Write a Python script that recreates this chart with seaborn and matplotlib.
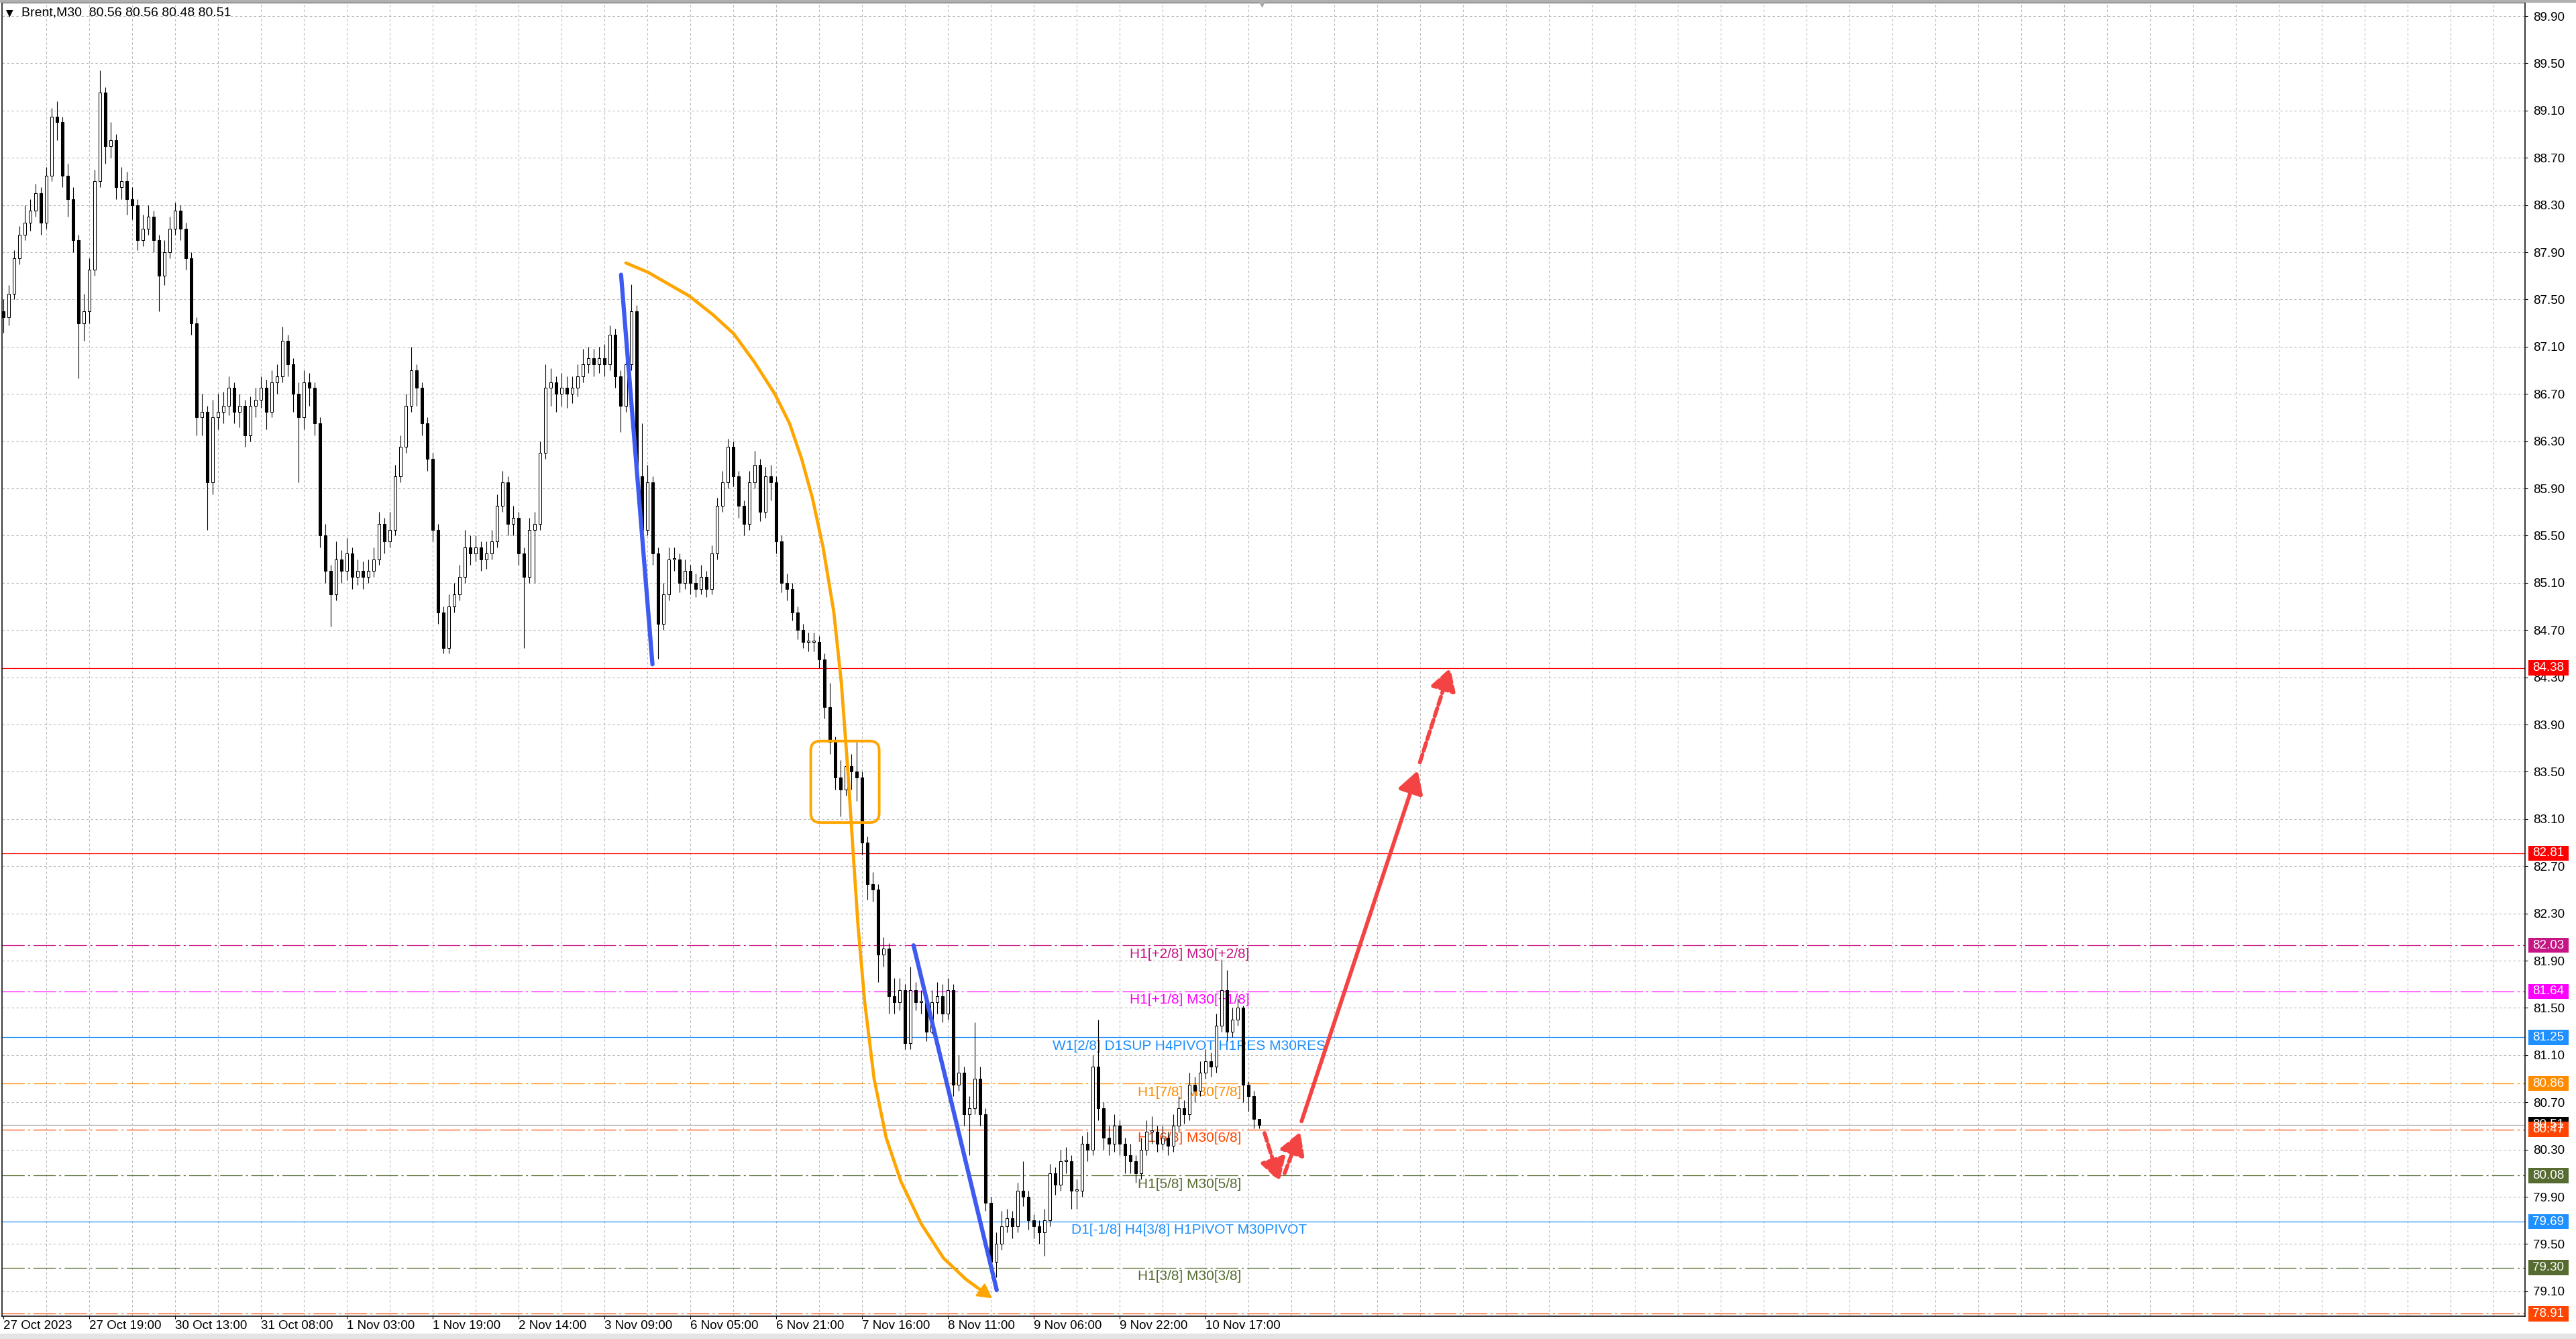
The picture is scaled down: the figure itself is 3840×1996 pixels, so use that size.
import numpy as np
import pandas as pd
import matplotlib
matplotlib.use("Agg")
import matplotlib.pyplot as plt
import matplotlib.transforms as mtransforms
from matplotlib.patches import Rectangle, FancyBboxPatch, FancyArrowPatch
import seaborn as sns

# Brent M30: one candle per two M30 bars
first_open = 87.40
closes = [
    87.35, 87.55, 87.85, 88.05, 88.15, 88.25, 88.40, 88.15, 88.55, 89.05,
    89.00, 88.55, 88.35, 88.00, 87.30, 87.40, 87.75, 88.50, 89.25, 88.80,
    88.85, 88.45, 88.50, 88.35, 88.30, 88.00, 88.10, 88.20, 88.00, 87.70,
    87.90, 88.10, 88.25, 88.10, 87.85, 87.30, 86.50, 86.55, 85.95, 86.50,
    86.55, 86.60, 86.75, 86.55, 86.60, 86.35, 86.60, 86.65, 86.75, 86.55,
    86.80, 86.85, 87.15, 86.95, 86.70, 86.50, 86.80, 86.75, 86.45, 85.50,
    85.20, 85.00, 85.30, 85.20, 85.35, 85.15, 85.20, 85.15, 85.20, 85.30,
    85.60, 85.45, 85.55, 86.00, 86.25, 86.60, 86.90, 86.75, 86.45, 86.15,
    85.55, 84.85, 84.55, 84.90, 85.00, 85.15, 85.40, 85.35, 85.40, 85.30,
    85.35, 85.45, 85.75, 85.95, 85.60, 85.65, 85.35, 85.15, 85.55, 85.60,
    86.20, 86.75, 86.80, 86.70, 86.75, 86.70, 86.75, 86.85, 86.95, 87.00,
    86.95, 87.00, 86.95, 87.20, 86.85, 86.60, 86.95, 87.40, 86.00, 85.55,
    85.95, 85.35, 84.75, 85.00, 85.30, 85.30, 85.10, 85.20, 85.10, 85.05,
    85.15, 85.05, 85.35, 85.75, 85.95, 86.25, 86.00, 85.75, 85.60, 85.95,
    86.10, 85.70, 86.00, 85.95, 85.45, 85.10, 85.05, 84.85, 84.70, 84.60,
    84.60, 84.60, 84.45, 84.05, 83.75, 83.45, 83.35, 83.55, 83.50, 83.45,
    82.90, 82.55, 82.50, 81.95, 82.00, 81.60, 81.55, 81.65, 81.20, 81.65,
    81.55, 81.55, 81.30, 81.55, 81.60, 81.45, 81.65, 80.85, 80.95, 80.60,
    80.65, 80.90, 80.60, 79.85, 79.35, 79.50, 79.65, 79.72, 79.65, 79.95,
    79.90, 79.70, 79.65, 79.60, 79.70, 80.10, 80.00, 80.20, 80.20, 79.95,
    79.95, 80.35, 80.30, 81.00, 80.65, 80.40, 80.35, 80.50, 80.35, 80.25,
    80.20, 80.10, 80.30, 80.45, 80.45, 80.35, 80.40, 80.33, 80.50, 80.65,
    80.60, 80.85, 80.80, 80.95, 81.05, 81.00, 81.35, 81.65, 81.30, 81.40,
    81.50, 80.85, 80.75, 80.56, 80.51,
]
highs = [
    87.50, 87.62, 87.92, 88.12, 88.30, 88.35, 88.48, 88.45, 88.62, 89.12,
    89.18, 89.05, 88.65, 88.45, 88.05, 87.55, 87.85, 88.60, 89.44, 89.30,
    89.00, 88.90, 88.62, 88.58, 88.45, 88.35, 88.22, 88.30, 88.25, 88.05,
    88.00, 88.20, 88.32, 88.30, 88.15, 87.90, 87.35, 86.70, 86.60, 86.65,
    86.70, 86.72, 86.85, 86.80, 86.70, 86.65, 86.68, 86.75, 86.85, 86.82,
    86.90, 86.95, 87.27, 87.20, 87.00, 86.80, 86.90, 86.88, 86.80, 86.50,
    85.60, 85.25, 85.45, 85.38, 85.48, 85.40, 85.30, 85.28, 85.30, 85.40,
    85.70, 85.65, 85.70, 86.10, 86.35, 86.70, 87.10, 86.95, 86.80, 86.50,
    86.20, 85.60, 84.90, 85.00, 85.10, 85.25, 85.55, 85.50, 85.50, 85.45,
    85.45, 85.55, 85.85, 86.05, 86.00, 85.75, 85.70, 85.40, 85.65, 85.70,
    86.30, 86.95, 86.92, 86.85, 86.88, 86.85, 86.85, 86.95, 87.08, 87.10,
    87.08, 87.10, 87.12, 87.28, 87.25, 86.90, 87.05, 87.63, 87.45, 86.45,
    86.10, 86.00, 85.40, 85.10, 85.40, 85.40, 85.35, 85.30, 85.25, 85.18,
    85.25, 85.20, 85.42, 85.82, 86.05, 86.32, 86.30, 86.05, 85.80, 86.05,
    86.22, 86.15, 86.08, 86.10, 86.00, 85.50, 85.18, 85.10, 84.90, 84.75,
    84.68, 84.68, 84.65, 84.50, 84.25, 83.80, 83.60, 83.70, 83.65, 83.75,
    83.50, 82.95, 82.65, 82.55, 82.10, 82.05, 81.75, 81.75, 81.70, 81.85,
    81.72, 81.65, 81.60, 81.65, 81.72, 81.70, 81.75, 81.70, 81.10, 81.00,
    80.75, 81.38, 81.00, 80.65, 79.90, 79.60, 79.78, 79.80, 79.78, 80.02,
    80.20, 79.95, 79.75, 79.70, 79.80, 80.18, 80.15, 80.30, 80.32, 80.25,
    80.05, 80.42, 80.45, 81.10, 81.40, 80.70, 80.50, 80.60, 80.55, 80.40,
    80.35, 80.25, 80.40, 80.55, 80.58, 80.50, 80.50, 80.45, 80.60, 80.75,
    80.72, 80.95, 80.92, 81.05, 81.15, 81.12, 81.45, 81.91, 81.82, 81.50,
    81.58, 81.52, 80.88, 80.80, 80.56,
]
lows = [
    87.22, 87.28, 87.50, 87.80, 88.00, 88.08, 88.20, 88.05, 88.10, 88.50,
    88.85, 88.45, 88.20, 87.90, 86.83, 87.15, 87.30, 87.70, 88.45, 88.65,
    88.70, 88.35, 88.35, 88.22, 88.18, 87.92, 87.95, 88.05, 87.90, 87.40,
    87.62, 87.85, 88.05, 88.00, 87.75, 87.20, 86.35, 86.35, 85.55, 85.85,
    86.40, 86.45, 86.52, 86.45, 86.42, 86.25, 86.30, 86.50, 86.58, 86.40,
    86.50, 86.70, 86.80, 86.85, 86.55, 85.95, 86.40, 86.60, 86.35, 85.40,
    85.10, 84.73, 84.95, 85.10, 85.12, 85.05, 85.08, 85.05, 85.10, 85.15,
    85.25, 85.35, 85.40, 85.50, 85.95, 86.20, 86.55, 86.60, 86.35, 86.05,
    85.45, 84.75, 84.50, 84.50, 84.85, 84.95, 85.10, 85.25, 85.28, 85.20,
    85.22, 85.30, 85.40, 85.70, 85.50, 85.50, 85.25, 84.55, 85.10, 85.10,
    85.55, 86.15, 86.60, 86.55, 86.60, 86.58, 86.62, 86.68, 86.80, 86.88,
    86.85, 86.88, 86.85, 86.90, 86.75, 86.38, 86.55, 86.90, 85.90, 85.45,
    85.50, 85.25, 84.46, 84.70, 84.95, 85.20, 85.02, 85.05, 85.00, 84.98,
    85.00, 84.98, 85.00, 85.30, 85.70, 85.90, 85.92, 85.65, 85.50, 85.55,
    85.90, 85.62, 85.65, 85.80, 85.35, 85.02, 84.95, 84.78, 84.62, 84.55,
    84.52, 84.52, 84.38, 83.95, 83.65, 83.35, 83.12, 83.30, 83.35, 83.25,
    82.80, 82.42, 82.40, 81.72, 81.85, 81.45, 81.45, 81.48, 81.15, 81.15,
    81.48, 81.45, 81.22, 81.28, 81.45, 81.38, 81.40, 80.75, 80.80, 80.50,
    80.25, 80.60, 80.50, 79.78, 79.28, 79.22, 79.45, 79.60, 79.55, 79.60,
    79.82, 79.62, 79.55, 79.50, 79.40, 79.65, 79.92, 79.95, 80.10, 79.80,
    79.80, 79.90, 80.20, 80.25, 80.55, 80.30, 80.25, 80.28, 80.25, 80.10,
    80.10, 80.02, 80.05, 80.25, 80.35, 80.28, 80.30, 80.25, 80.28, 80.45,
    80.52, 80.55, 80.70, 80.75, 80.90, 80.92, 80.95, 81.30, 81.22, 81.25,
    81.35, 80.70, 80.62, 80.48, 80.48,
]

# time axis labels, placed at M30 bar numbers
time_labels = ["27 Oct 2023", "27 Oct 19:00", "30 Oct 13:00", "31 Oct 08:00", "1 Nov 03:00",
               "1 Nov 19:00", "2 Nov 14:00", "3 Nov 09:00", "6 Nov 05:00", "6 Nov 21:00",
               "7 Nov 16:00", "8 Nov 11:00", "9 Nov 06:00", "9 Nov 22:00", "10 Nov 17:00"]
time_label_bars = [0, 32, 64, 96, 128, 160, 192, 224, 256, 288, 320, 352, 384, 416, 448]

price_ticks = [79.10, 79.50, 79.90, 80.30, 80.70, 81.10, 81.50, 81.90, 82.30, 82.70, 83.10,
               83.50, 83.90, 84.30, 84.70, 85.10, 85.50, 85.90, 86.30, 86.70, 87.10, 87.50,
               87.90, 88.30, 88.70, 89.10, 89.50, 89.90]

# horizontal levels (murrey math / pivots)
level_prices = [84.38, 82.81, 82.03, 81.64, 81.25, 80.86, 80.51, 80.47, 80.08, 79.69, 79.30, 78.91]
level_box_colors = ["#FF0000", "#FF0000", "#C71585", "#FF00FF", "#1E90FF", "#FF8C00",
                    "#000000", "#FF4500", "#556B2F", "#1E90FF", "#556B2F", "#FF4500"]
level_line_colors = ["#FF0000", "#FF0000", "#C71585", "#FF00FF", "#1E90FF", "#FF8C00",
                     "#B4B4B4", "#FF4500", "#556B2F", "#1E90FF", "#556B2F", "#FF4500"]
level_solid = [True, True, False, False, True, False, True, False, False, True, False, False]
level_names = ["", "", "H1[+2/8] M30[+2/8]", "H1[+1/8] M30[+1/8]",
               "W1[2/8] D1SUP H4PIVOT H1RES M30RES", "H1[7/8] M30[7/8]", "",
               "H1[6/8] M30[6/8]", "H1[5/8] M30[5/8]", "D1[-1/8] H4[3/8] H1PIVOT M30PIVOT",
               "H1[3/8] M30[3/8]", ""]
level_label_bar = 442

# hand drawn objects (bar, price)
blue_line_1 = ([230.2, 241.9], [87.71, 84.41])
blue_line_2 = ([339.2, 370.2], [82.03, 79.11])
arc_bars = [232.0, 240.3, 255.6, 264.5, 272.2, 279.9, 287.5, 293.0, 297.5, 301.5, 305.5,
            309.5, 312.3, 314.6, 316.6, 318.5, 321.0, 324.5, 329.0, 334.5, 342.1, 350.4,
            358.8, 365.5]
arc_prices = [87.81, 87.73, 87.53, 87.37, 87.21, 86.97, 86.70, 86.45, 86.15, 85.82, 85.40,
              84.85, 84.25, 83.55, 82.85, 82.20, 81.55, 80.90, 80.40, 80.03, 79.67, 79.38,
              79.20, 79.09]
arc_tip = (368.5, 79.04)
box_bars = (300.9, 326.4)
box_prices = (83.07, 83.76)
red_arrows = [((470.0, 80.44), (475.6, 80.03), True),
              ((477.5, 80.10), (483.3, 80.45), True),
              ((483.8, 80.54), (527.1, 83.51), False),
              ((527.9, 83.58), (539.2, 84.38), True)]

W, H = 3840, 1996
sns.set_theme(style="white")
plt.rcParams["font.family"] = ["Liberation Sans", "DejaVu Sans"]
plt.rcParams["lines.scale_dashes"] = False

fig = plt.figure(figsize=(W / 100, H / 100), dpi=100)
fig.patch.set_facecolor("white")
ax = fig.add_axes([3 / W, 34 / H, 3761 / W, 1958 / H])
ax.set_facecolor("white")
ax.set_xlim(-0.5, 939.75)
ax.set_ylim(78.889, 90.014)

# grid
grid_ls = (0, (2.5, 2.5))
for p in price_ticks:
    ax.axhline(p, color="#B9B9B9", lw=0.8, ls=grid_ls, zorder=1)
for b in np.arange(16, 940, 16):
    ax.axvline(b, color="#B9B9B9", lw=0.8, ls=grid_ls, zorder=1)

# levels
for p, c, solid, name in zip(level_prices, level_line_colors, level_solid, level_names):
    ls = "-" if solid else (0, (24, 3.6, 2.2, 3.6))
    ax.axhline(p, color=c, lw=0.9, ls=ls, zorder=2)
    if name:
        ax.annotate(name, xy=(level_label_bar, p), xytext=(0, -2.5), textcoords="offset points",
                    ha="center", va="top", color=c, fontsize=15, zorder=3)

# candles
df = pd.DataFrame({"close": closes, "high": highs, "low": lows})
df["open"] = [first_open] + closes[:-1]
df["bar"] = np.arange(len(df)) * 2
up = df["close"] >= df["open"]
body_low = np.minimum(df["open"], df["close"])
body_h = np.maximum((df["close"] - df["open"]).abs(), 0.012)
ax.vlines(df["bar"], df["low"], df["high"], color="black", lw=0.8, zorder=4)
ax.bar(df["bar"][up], body_h[up], bottom=body_low[up], width=1.2, color="white",
       edgecolor="black", linewidth=0.75, zorder=5)
ax.bar(df["bar"][~up], body_h[~up], bottom=body_low[~up], width=1.2, color="black",
       edgecolor="black", linewidth=0.75, zorder=5)

# drawn objects
orange = "#FFA500"
sns.lineplot(x=blue_line_1[0], y=blue_line_1[1], ax=ax, color="#3D5AF1", linewidth=4.5,
             sort=False, estimator=None, solid_capstyle="round", zorder=6)
sns.lineplot(x=blue_line_2[0], y=blue_line_2[1], ax=ax, color="#3D5AF1", linewidth=4.5,
             sort=False, estimator=None, solid_capstyle="round", zorder=6)
sns.lineplot(x=arc_bars, y=arc_prices, ax=ax, color=orange, linewidth=3.4,
             sort=False, estimator=None, solid_capstyle="round", solid_joinstyle="round",
             zorder=6)
ax.add_patch(FancyArrowPatch((arc_bars[-1], arc_prices[-1]), arc_tip,
                             arrowstyle="-|>,head_length=0.55,head_width=0.3", mutation_scale=24,
                             color=orange, lw=2, shrinkA=0, shrinkB=0, zorder=6))
ax.add_patch(FancyBboxPatch((box_bars[0], box_prices[0]), box_bars[1] - box_bars[0],
                            box_prices[1] - box_prices[0],
                            boxstyle="round,pad=0,rounding_size=3.5", mutation_aspect=0.0227,
                            fill=False, edgecolor=orange, lw=2.8, zorder=6))
for start, end, dashed in red_arrows:
    ax.add_patch(FancyArrowPatch(start, end, arrowstyle="-|>,head_length=0.45,head_width=0.26",
                                 mutation_scale=44, color="#F44343", lw=4.2,
                                 linestyle=(0, (9, 4)) if dashed else "-",
                                 shrinkA=0, shrinkB=0, zorder=7))

# axes look
for s in ax.spines.values():
    s.set_color("black")
    s.set_linewidth(1.1)
ax.yaxis.tick_right()
ax.set_yticks(price_ticks)
ax.set_yticklabels([f"{p:.2f}" for p in price_ticks])
ax.set_xticks(time_label_bars)
ax.set_xticklabels(time_labels, ha="left")
ax.tick_params(axis="y", right=True, left=False, length=3, width=0.8, color="black",
               pad=6, labelsize=13.5, labelcolor="black")
ax.tick_params(axis="x", bottom=True, length=3, width=0.8, color="black",
               pad=1.5, labelsize=13.5, labelcolor="black")
ax.set_xlabel("")
ax.set_ylabel("")

# price boxes on the scale
trans = mtransforms.blended_transform_factory(ax.transAxes, ax.transData)
for p, c in zip(level_prices, level_box_colors):
    ax.add_patch(Rectangle((1.0013, p - 0.064), 0.016, 0.128, transform=trans, facecolor=c,
                           edgecolor="none", clip_on=False, zorder=8))
    ax.text(1.0013 + 0.008, p, f"{p:.2f}", transform=trans, ha="center", va="center",
            color="white", fontsize=13.5, clip_on=False, zorder=9)

# chart shift marker and header
ax.plot([469], [1.0], marker="v", ms=9, color="#A8A8A8",
        transform=mtransforms.blended_transform_factory(ax.transData, ax.transAxes),
        clip_on=False, zorder=9)
fig.text(9 / W, 1 - 19 / H, "\u25BC", fontsize=10, va="center", ha="left", color="black",
         family="DejaVu Sans")
fig.text(32 / W, 1 - 19 / H, "Brent,M30  80.56 80.56 80.48 80.51", fontsize=14,
         va="center", ha="left", color="black")
fig.add_artist(Rectangle((0, 0), 1, 8 / H, transform=fig.transFigure, color="#E4E4E4"))
fig.add_artist(Rectangle((0, 1 - 3 / H), 1, 3 / H, transform=fig.transFigure, color="#B0B0B0"))

fig.savefig("out.png", dpi=100, facecolor="white")
